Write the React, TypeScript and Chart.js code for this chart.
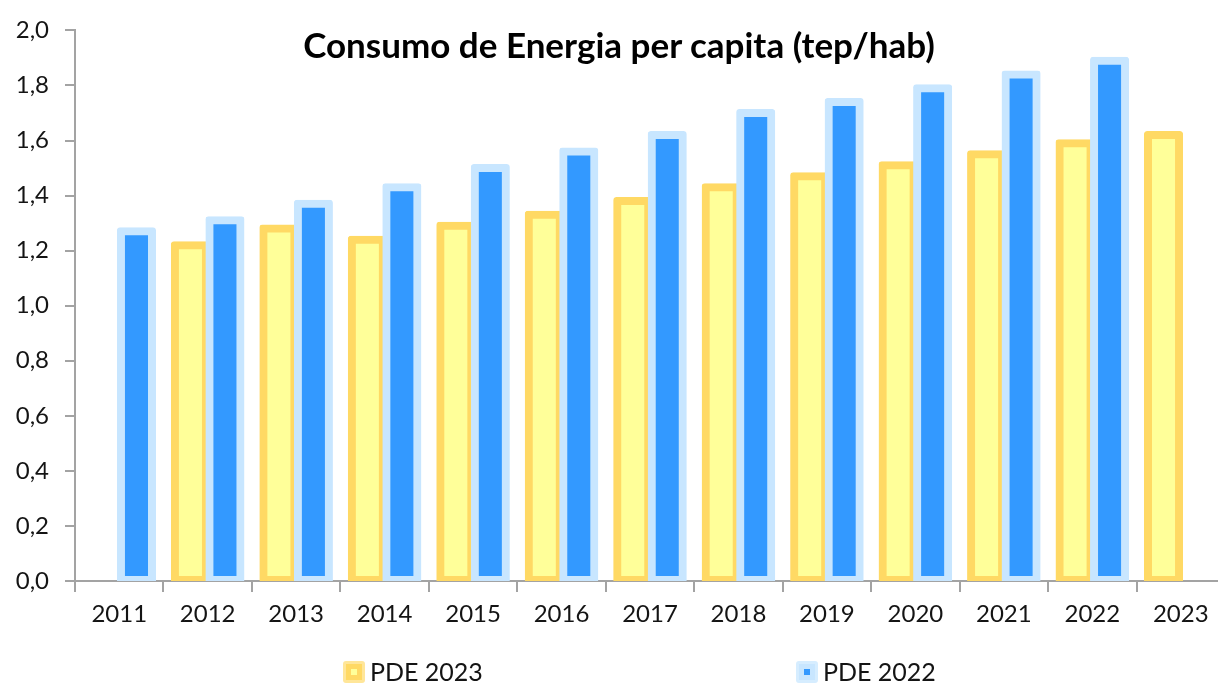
import React, { useEffect, useRef } from 'react';
import { Chart, registerables } from 'chart.js';

Chart.register(...registerables);

const years = ['2011', '2012', '2013', '2014', '2015', '2016', '2017', '2018', '2019', '2020', '2021', '2022', '2023'];
const pde2023 = [null, 1.22, 1.28, 1.24, 1.29, 1.33, 1.38, 1.43, 1.47, 1.51, 1.55, 1.59, 1.62];
const pde2022 = [1.27, 1.31, 1.37, 1.43, 1.5, 1.56, 1.62, 1.7, 1.74, 1.79, 1.84, 1.89, null];
const seriesNames = ['PDE 2023', 'PDE 2022'];
const titleText = 'Consumo de Energia per capita (tep/hab)';
const yMin = 0;
const yMax = 2;
const yStep = 0.2;

const FONT = 'Lato, "Open Sans", "Noto Sans", sans-serif';
const AXIS = '#a3a3a3';
const TEXT = '#141414';

const YELLOW_FILL = '#ffff99';
const YELLOW_EDGE = '#ffd964';
const BLUE_FILL = '#3399ff';
const BLUE_EDGE = '#c8e6ff';

// draw datasets in index order so the right-hand (blue) bar sits on top of the overlap
const drawInOrder = {
  id: 'drawInOrder',
  beforeDatasetsDraw(chart: any) {
    const { ctx, chartArea: a } = chart;
    ctx.save();
    ctx.beginPath();
    ctx.rect(a.left, a.top, a.right - a.left, a.bottom - a.top);
    ctx.clip();
    chart.data.datasets.forEach((_: any, i: number) => {
      if (chart.isDatasetVisible(i)) chart.getDatasetMeta(i).controller.draw();
    });
    ctx.restore();
    return false;
  },
};

export default function App() {
  const ref = useRef<HTMLCanvasElement | null>(null);

  useEffect(() => {
    if (!ref.current) return;
    const barCommon = {
      borderWidth: 8,
      borderSkipped: false,
      borderRadius: 3,
      inflateAmount: 4,
      categoryPercentage: 0.78,
      barPercentage: 0.9,
    };
    const chart = new Chart(ref.current, {
      type: 'bar',
      data: {
        labels: years,
        datasets: [
          { label: seriesNames[0], data: pde2023, backgroundColor: YELLOW_FILL, borderColor: YELLOW_EDGE, ...barCommon },
          { label: seriesNames[1], data: pde2022, backgroundColor: BLUE_FILL, borderColor: BLUE_EDGE, ...barCommon },
        ] as any,
      },
      options: {
        responsive: false,
        animation: false,
        events: [],
        layout: { padding: { top: 24, right: 1, bottom: 0, left: 0 } },
        plugins: {
          legend: { display: false },
          title: { display: false },
          tooltip: { enabled: false },
        },
        scales: {
          x: {
            grid: { offset: true, drawOnChartArea: false, drawTicks: true, tickLength: 11, color: AXIS, lineWidth: 2 },
            border: { color: AXIS, width: 2 },
            ticks: { font: { family: FONT, size: 24 }, color: TEXT, padding: 8, maxRotation: 0, autoSkip: false },
            afterFit: (s: any) => { s.height = 103; },
          },
          y: {
            min: yMin,
            max: yMax,
            ticks: {
              stepSize: yStep,
              font: { family: FONT, size: 24 },
              color: TEXT,
              padding: 16,
              callback: (v: any) => Number(v).toFixed(1).replace('.', ','),
            },
            grid: { drawOnChartArea: false, drawTicks: true, tickLength: 10, color: AXIS, lineWidth: 2 },
            border: { color: AXIS, width: 2 },
            afterFit: (s: any) => { s.width = 75; },
          },
        },
      } as any,
      plugins: [drawInOrder],
    });
    return () => chart.destroy();
  }, []);

  const legendText: React.CSSProperties = {
    position: 'absolute',
    top: 659,
    fontFamily: FONT,
    fontSize: 25,
    lineHeight: '25px',
    color: TEXT,
    whiteSpace: 'nowrap',
  };
  const box = (left: number, outer: string, ring: string, inner: string) => (
    <div
      style={{
        position: 'absolute',
        left,
        top: 661,
        width: 22,
        height: 22,
        boxSizing: 'border-box',
        background: outer,
        border: `3px solid ${ring}`,
        borderRadius: 3,
      }}
    >
      <div style={{ position: 'absolute', left: 5, top: 5, width: 6, height: 6, background: inner }} />
    </div>
  );

  return (
    <div style={{ position: 'fixed', left: 0, top: 0, width: 1218, height: 684, overflow: 'hidden', background: '#fff' }}>
      <canvas ref={ref} width={1226} height={684} style={{ display: 'block', width: 1226, height: 684 }} />
      <div
        style={{
          position: 'absolute',
          left: 619,
          top: 27,
          transform: 'translateX(-50%)',
          fontFamily: FONT,
          fontWeight: 700,
          fontSize: 35,
          lineHeight: '35px',
          color: '#000',
          whiteSpace: 'nowrap',
        }}
      >
        {titleText}
      </div>
      {box(343, '#ffd964', '#ffe699', YELLOW_FILL)}
      <div style={{ ...legendText, left: 370 }}>{seriesNames[0]}</div>
      {box(796, BLUE_EDGE, '#d6edff', BLUE_FILL)}
      <div style={{ ...legendText, left: 823 }}>{seriesNames[1]}</div>
    </div>
  );
}
